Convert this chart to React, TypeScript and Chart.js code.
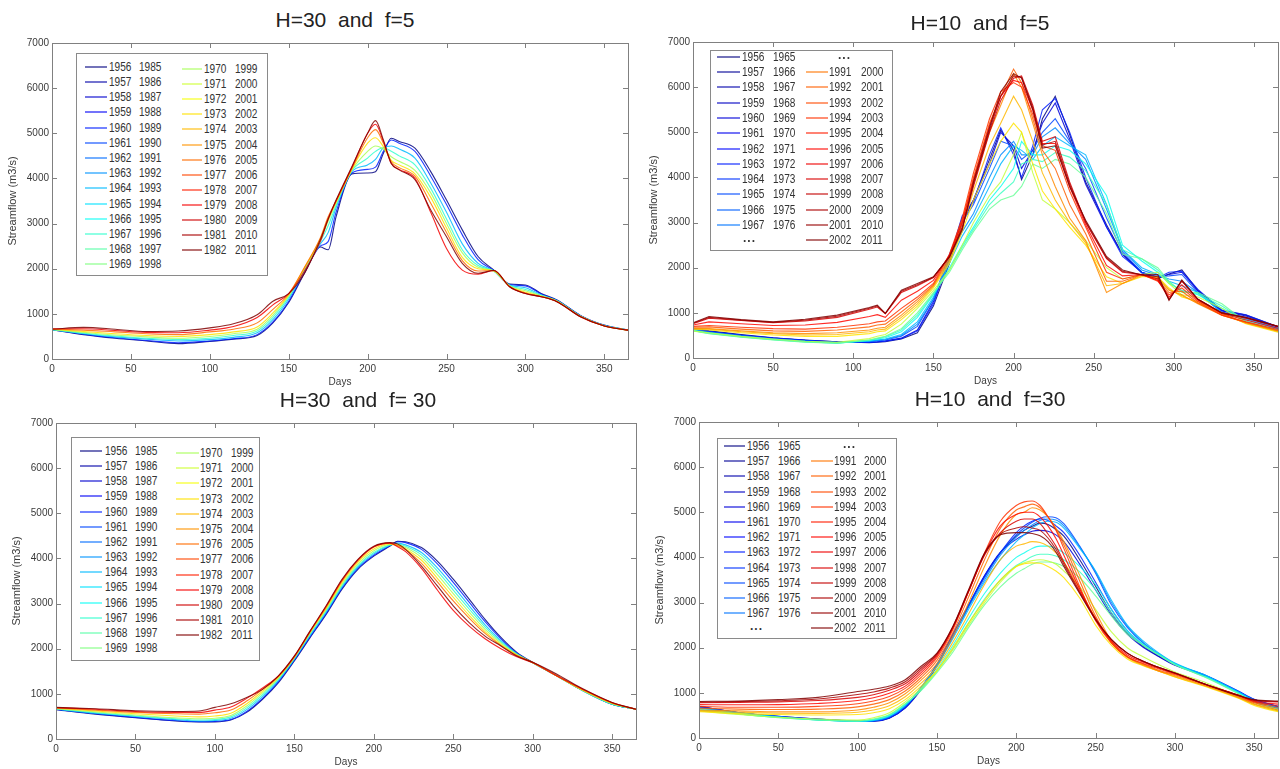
import React, { useEffect, useRef } from "react";
import { Chart, registerables } from "chart.js";
Chart.register(...registerables);

// ---------- labels ----------
const LEFT_START = [1956,1957,1958,1959,1960,1961,1962,1963,1964,1965,1966,1967,1968,1969,1970,1971,1972,1973,1974,1975,1976,1977,1978,1979,1980,1981,1982];
const LEFT_END = [1985,1986,1987,1988,1989,1990,1991,1992,1993,1994,1995,1996,1997,1998,1999,2000,2001,2002,2003,2004,2005,2006,2007,2008,2009,2010,2011];
const RIGHT_START_A = [1956,1957,1958,1959,1960,1961,1962,1963,1964,1965,1966,1967];
const RIGHT_END_A = [1965,1966,1967,1968,1969,1970,1971,1972,1973,1974,1975,1976];
const RIGHT_START_B = [1991,1992,1993,1994,1995,1996,1997,1998,1999,2000,2001,2002];
const RIGHT_END_B = [2000,2001,2002,2003,2004,2005,2006,2007,2008,2009,2010,2011];
const X_TICKS = [0,50,100,150,200,250,300,350];
const Y_TICKS = [0,1000,2000,3000,4000,5000,6000,7000];

// ---------- H=30, f=5 ----------
const TL_DAYS = [0,20,40,60,80,100,115,130,140,150,160,170,175,180,190,200,205,210,215,220,230,240,250,260,270,280,290,300,310,320,335,350,365];
const TL_1956 = [650,540,460,400,340,390,440,520,800,1250,1900,2480,2420,3150,4100,4120,4150,4560,4890,4820,4670,4150,3520,2860,2270,1970,1660,1640,1450,1310,960,750,640];
const TL_1960 = [650,550,470,410,360,400,450,540,820,1280,1920,2500,2600,3250,4120,4200,4250,4600,4850,4780,4600,4050,3420,2750,2200,1960,1650,1620,1440,1300,960,740,640];
const TL_1964 = [650,560,490,440,400,430,480,580,870,1330,1950,2550,2800,3350,4150,4300,4420,4680,4720,4650,4450,3900,3250,2550,2120,1950,1640,1580,1420,1290,950,740,640];
const TL_1967 = [650,570,510,460,430,460,520,620,920,1370,1980,2600,2950,3400,4170,4450,4600,4680,4600,4500,4300,3780,3100,2420,2070,1950,1630,1540,1410,1290,950,735,640];
const TL_1970 = [655,590,530,490,460,500,560,660,970,1400,2000,2640,3050,3450,4180,4600,4720,4650,4480,4380,4180,3680,3000,2350,2030,1950,1620,1510,1400,1280,945,735,640];
const TL_1973 = [660,610,560,520,500,540,600,710,1020,1420,2020,2660,3100,3480,4200,4780,4900,4700,4400,4300,4100,3580,2900,2250,2000,1950,1610,1480,1390,1280,940,730,640];
const TL_1976 = [665,640,600,560,540,600,660,800,1100,1440,2030,2680,3150,3500,4220,4900,5080,4780,4370,4240,4050,3450,2800,2180,1950,1960,1600,1460,1380,1270,940,730,640];
const TL_1979 = [670,670,630,590,580,640,720,920,1200,1450,1950,2600,3100,3500,4240,5000,5200,4820,4330,4200,4000,3250,2450,1970,1880,1960,1600,1450,1380,1270,930,730,640];
const TL_1982 = [660,700,660,610,620,690,780,980,1280,1450,1900,2640,3100,3520,4260,5000,5280,4850,4330,4190,3970,3300,2710,2120,1900,1960,1600,1450,1380,1270,935,730,640];

// ---------- H=10, f=5 ----------
const TR_DAYS = [0,10,30,50,70,90,110,115,120,130,140,150,160,168,175,185,192,200,205,212,218,226,235,245,258,268,280,290,297,305,315,330,345,365];
const TR_1956 = [650,600,520,450,400,360,340,350,360,420,560,1150,2100,3000,3500,4400,5050,4600,3950,4500,5300,5800,4950,3900,2950,2300,1900,1760,1860,1950,1500,1050,950,690];
const TR_1960 = [640,590,510,440,390,360,350,360,380,440,620,1250,2200,3100,3500,4300,5000,4700,4200,4600,5200,5650,4850,3850,2900,2300,1880,1780,1850,1900,1480,1040,930,680];
const TR_1963 = [640,590,500,440,390,350,345,355,370,430,600,1200,2200,3150,3450,4500,5100,4500,4000,4700,5500,5750,5000,4000,2900,2250,1900,1780,1900,1920,1520,1060,960,690];
const TR_1965 = [630,580,500,430,380,350,360,380,400,480,700,1300,2300,3000,3400,4200,4800,4700,4400,4600,5000,5300,4800,4200,3100,2350,1900,1800,1820,1850,1450,1020,900,660];
const TR_1968 = [625,570,490,420,375,345,370,390,410,500,750,1300,2200,2800,3200,4000,4500,4800,4500,4500,4900,5100,4750,4400,3300,2400,1950,1830,1750,1700,1450,1000,870,650];
const TR_1970 = [620,560,480,420,370,340,380,400,420,520,800,1350,2100,2700,3100,3800,4300,4700,4600,4400,4700,4900,4700,4500,3400,2400,2000,1850,1700,1600,1450,1000,850,640];
const TR_1974 = [610,550,470,410,360,330,390,420,450,580,900,1400,2000,2500,2900,3500,3800,4200,4800,4500,4500,4700,4600,4300,3600,2500,2150,1900,1650,1500,1400,1100,820,620];
const TR_1976 = [605,545,465,405,355,330,395,430,470,620,950,1420,1950,2450,2850,3400,3650,3900,4300,4400,4350,4550,4450,4150,3400,2400,2200,1950,1680,1480,1420,1150,810,610];
const TR_1978 = [600,540,460,400,350,330,400,440,480,650,1000,1450,1900,2400,2800,3300,3500,3600,3800,4300,4200,4400,4300,4000,3200,2300,2200,2000,1700,1450,1450,1200,800,600];
const TR_1982 = [600,560,480,420,370,350,430,480,520,750,1100,1500,1950,2500,3000,3600,3900,4500,5000,4100,3500,3300,3000,2600,2000,1750,1850,1900,1650,1400,1350,1100,780,580];
const TR_1986 = [640,620,560,510,480,480,540,580,600,850,1150,1550,2100,2800,3500,4300,4800,5200,5000,4300,3700,3300,2900,2500,1800,1650,1800,1800,1550,1350,1250,1000,760,570];
const TR_1988 = [650,640,580,540,510,520,580,620,640,900,1200,1580,2150,2900,3700,4700,5200,5800,5500,4800,4100,3500,3000,2550,1600,1650,1820,1780,1520,1380,1220,980,770,590];
const TR_1990 = [660,650,600,560,540,560,620,660,680,950,1250,1600,2200,3000,3900,5000,5600,6300,6000,5200,4500,3800,3100,2600,1450,1650,1850,1750,1500,1400,1200,950,780,600];
const TR_1992 = [680,690,640,600,590,620,690,730,750,1020,1300,1620,2250,3050,4000,5200,5800,6400,6100,5300,4600,4200,3400,2750,1700,1700,1850,1720,1450,1480,1220,950,790,610];
const TR_1994 = [700,720,680,650,640,680,760,800,820,1100,1350,1650,2300,3100,4100,5300,5900,6100,6000,5400,4700,4600,3700,2900,1900,1750,1850,1700,1400,1550,1250,950,800,630];
const TR_1996 = [730,800,760,720,730,790,920,960,900,1280,1480,1720,2280,3000,3950,5150,5800,6150,6100,5500,4750,4750,3800,2950,2050,1820,1850,1720,1350,1620,1280,980,840,660];
const TR_1998 = [760,880,830,780,820,900,1080,1130,980,1450,1600,1780,2250,2900,3800,5000,5700,6200,6250,5600,4800,4900,3900,3000,2200,1900,1850,1750,1300,1700,1300,1000,880,700];
const TR_2000 = [770,900,840,790,840,925,1100,1150,985,1480,1620,1790,2245,2870,3850,5050,5800,6250,6220,5550,4720,4800,3850,3020,2220,1920,1845,1800,1290,1715,1300,1000,890,700];
const TR_2002 = [780,920,850,800,860,950,1120,1170,990,1500,1650,1800,2240,2840,3900,5100,5900,6300,6200,5500,4650,4700,3800,3050,2250,1950,1840,1850,1280,1730,1300,1000,900,700];

// ---------- H=30, f=30 ----------
const BL_DAYS = [0,25,50,75,90,100,110,120,130,140,150,160,170,180,190,200,210,215,220,230,240,250,260,270,280,290,300,315,330,350,365];
const BL_1956 = [650,550,470,400,380,380,420,590,880,1250,1730,2250,2760,3320,3760,4050,4270,4380,4370,4240,3940,3540,3100,2650,2250,1920,1700,1410,1100,770,660];
const BL_1960 = [655,560,480,410,385,390,430,610,900,1270,1750,2270,2780,3340,3780,4070,4280,4370,4350,4200,3880,3470,3030,2600,2220,1900,1690,1400,1100,770,660];
const BL_1964 = [660,570,500,430,400,410,460,650,940,1300,1770,2300,2810,3370,3810,4100,4290,4340,4300,4130,3790,3380,2950,2530,2180,1890,1690,1400,1100,770,660];
const BL_1967 = [665,580,510,450,420,430,490,690,980,1330,1790,2330,2840,3400,3840,4130,4300,4320,4270,4080,3720,3300,2880,2480,2150,1880,1690,1400,1100,770,660];
const BL_1970 = [670,600,530,470,450,460,520,730,1020,1350,1800,2350,2870,3430,3880,4170,4310,4300,4240,4020,3640,3220,2810,2430,2120,1870,1690,1400,1100,780,660];
const BL_1973 = [680,620,560,510,490,510,570,780,1060,1370,1810,2370,2900,3470,3920,4210,4320,4290,4210,3960,3560,3140,2740,2380,2090,1860,1690,1400,1110,790,660];
const BL_1976 = [690,640,590,560,550,580,640,840,1100,1390,1820,2380,2920,3500,3950,4250,4340,4280,4190,3890,3480,3060,2680,2340,2070,1850,1700,1400,1120,800,660];
const BL_1979 = [695,660,610,590,590,640,710,900,1130,1400,1830,2390,2940,3520,3970,4260,4340,4260,4150,3780,3300,2850,2500,2220,2000,1820,1690,1400,1130,805,660];
const BL_1982 = [700,670,626,610,620,700,780,920,1100,1400,1840,2400,2950,3540,3980,4270,4350,4320,4200,3830,3390,2950,2580,2280,2060,1840,1700,1440,1140,810,660];

// ---------- H=10, f=30 ----------
const BR_DAYS = [0,25,50,75,100,110,120,130,140,150,160,170,180,190,200,205,210,215,220,225,230,240,250,260,270,280,290,300,320,340,350,365];
const BR_1956 = [700,560,480,420,380,370,440,660,1070,1590,2250,2920,3580,4100,4470,4600,4690,4760,4730,4620,4470,3950,3360,2770,2330,2030,1810,1620,1370,1030,850,700];
const BR_1960 = [690,560,470,410,380,380,450,680,1100,1620,2280,2950,3600,4120,4400,4500,4580,4600,4580,4500,4350,3850,3280,2720,2300,2010,1800,1610,1360,1020,840,690];
const BR_1963 = [700,565,480,420,375,375,445,670,1080,1600,2260,2930,3590,4110,4550,4700,4800,4850,4820,4700,4550,4050,3450,2850,2380,2060,1830,1630,1380,1040,860,700];
const BR_1965 = [680,560,470,410,370,380,460,700,1120,1640,2300,2950,3550,4100,4500,4650,4780,4870,4900,4880,4750,4250,3650,2950,2450,2100,1850,1640,1370,1030,850,680];
const BR_1968 = [670,560,470,405,370,385,470,710,1110,1620,2250,2900,3500,4050,4450,4600,4720,4820,4850,4830,4700,4230,3680,3000,2480,2120,1860,1650,1375,1025,840,670];
const BR_1970 = [660,560,470,400,370,390,480,720,1100,1600,2200,2850,3450,3950,4350,4500,4650,4750,4800,4780,4650,4200,3700,3050,2500,2150,1880,1660,1380,1020,830,660];
const BR_1974 = [640,540,460,400,370,400,500,740,1080,1520,2050,2650,3200,3650,4000,4100,4200,4250,4250,4200,4100,3800,3400,2850,2380,2080,1850,1640,1350,1000,810,640];
const BR_1976 = [630,535,455,400,375,410,510,750,1065,1480,1970,2550,3080,3500,3820,3920,4020,4070,4070,4030,3950,3680,3280,2780,2340,2060,1840,1630,1340,990,800,630];
const BR_1978 = [620,530,450,400,380,420,520,760,1050,1450,1900,2450,2950,3350,3650,3750,3850,3900,3900,3870,3800,3550,3150,2700,2300,2050,1830,1620,1330,980,790,620];
const BR_1982 = [600,520,460,420,400,450,560,800,1100,1480,1950,2500,3000,3450,3800,3880,3930,3950,3920,3850,3700,3350,2850,2350,2000,1800,1620,1460,1220,920,750,600];
const BR_1986 = [580,540,520,510,520,560,650,850,1150,1500,2000,2550,3050,3500,3800,3860,3880,3870,3800,3700,3550,3100,2500,2050,1750,1600,1480,1350,1130,880,720,580];
const BR_1988 = [600,570,550,545,570,620,715,915,1215,1575,2120,2750,3400,3950,4250,4300,4350,4330,4250,4100,3900,3300,2650,2100,1780,1610,1480,1360,1140,890,740,600];
const BR_1990 = [620,600,580,580,620,680,780,980,1280,1650,2250,3000,3800,4500,4950,5000,5100,5050,4900,4650,4350,3600,2800,2150,1800,1620,1480,1380,1150,900,760,620];
const BR_1992 = [660,640,630,640,690,750,850,1040,1340,1720,2330,3130,3950,4650,5050,5120,5180,5100,4900,4620,4280,3480,2700,2120,1800,1640,1500,1400,1165,920,780,660];
const BR_1994 = [700,680,680,700,760,820,920,1100,1400,1780,2400,3250,4100,4800,5150,5230,5250,5150,4900,4600,4200,3350,2600,2100,1800,1650,1530,1420,1180,940,800,700];
const BR_1996 = [740,735,740,765,830,890,990,1150,1450,1820,2430,3250,4080,4700,4950,5000,5000,4900,4700,4420,4050,3300,2620,2140,1840,1680,1545,1430,1180,945,815,750];
const BR_1998 = [780,790,800,830,900,960,1060,1200,1500,1850,2450,3250,4050,4550,4800,4850,4850,4750,4520,4250,3900,3250,2650,2180,1880,1700,1560,1440,1180,950,830,800];
const BR_2000 = [795,805,825,865,965,1020,1105,1245,1545,1865,2460,3270,4075,4520,4650,4680,4650,4600,4430,4180,3850,3220,2630,2180,1880,1700,1560,1440,1180,945,840,810];
const BR_2002 = [810,820,850,900,1030,1080,1150,1290,1590,1880,2470,3290,4100,4500,4550,4550,4530,4480,4350,4120,3800,3200,2620,2180,1880,1700,1560,1440,1180,940,850,820];

// ---------- styling helpers ----------
function clamp(v: number) { return Math.max(0, Math.min(1, v)); }
function jet(t: number, a = 1) {
  const r = clamp(1.5 - Math.abs(4 * t - 3));
  const g = clamp(1.5 - Math.abs(4 * t - 2));
  const b = clamp(1.5 - Math.abs(4 * t - 1));
  return `rgba(${Math.round(r * 255)},${Math.round(g * 255)},${Math.round(b * 255)},${a})`;
}

type Series = { idx: number; n: number; values: number[] };
type Entry = { c?: string; a?: string; b?: string; dots?: boolean };
type Col = { sw0: number; sw1: number; ta: number; tb: number; y0: number; dy: number; dotsX?: number; entries: Entry[] };
type Spec = {
  l: number; t: number; r: number; b: number;
  title: string; tx: number; ty: number;
  days: number[]; series: Series[]; smooth: boolean;
  box: [number, number, number, number]; cols: Col[];
};

const SW_ALPHA = 0.55;
const leftEntries = (from: number, to: number): Entry[] => {
  const out: Entry[] = [];
  for (let i = from; i <= to; i++) out.push({ c: jet(i / 26, SW_ALPHA), a: String(LEFT_START[i]), b: String(LEFT_END[i]) });
  return out;
};
const rightA: Entry[] = RIGHT_START_A.map((s, i) => ({ c: jet(i / 46, SW_ALPHA), a: String(s), b: String(RIGHT_END_A[i]) }));
const rightB: Entry[] = RIGHT_START_B.map((s, i) => ({ c: jet((35 + i) / 46, SW_ALPHA), a: String(s), b: String(RIGHT_END_B[i]) }));

const SPECS: Spec[] = [
  {
    l: 52, t: 43, r: 628, b: 359, title: "H=30  and  f=5", tx: 345, ty: 20,
    days: TL_DAYS, smooth: true,
    series: [
      { idx: 0, n: 26, values: TL_1956 }, { idx: 4, n: 26, values: TL_1960 }, { idx: 8, n: 26, values: TL_1964 },
      { idx: 11, n: 26, values: TL_1967 }, { idx: 14, n: 26, values: TL_1970 }, { idx: 17, n: 26, values: TL_1973 },
      { idx: 20, n: 26, values: TL_1976 }, { idx: 23, n: 26, values: TL_1979 }, { idx: 26, n: 26, values: TL_1982 },
    ],
    box: [76, 53, 268, 276],
    cols: [
      { sw0: 85, sw1: 107, ta: 109, tb: 139, y0: 66.7, dy: 15.2, entries: leftEntries(0, 13) },
      { sw0: 182, sw1: 202, ta: 204, tb: 235, y0: 69, dy: 15.1, entries: leftEntries(14, 26) },
    ],
  },
  {
    l: 693, t: 42, r: 1278, b: 358, title: "H=10  and  f=5", tx: 980, ty: 23,
    days: TR_DAYS, smooth: false,
    series: [
      { idx: 0, n: 46, values: TR_1956 }, { idx: 4, n: 46, values: TR_1960 }, { idx: 7, n: 46, values: TR_1963 },
      { idx: 9, n: 46, values: TR_1965 }, { idx: 12, n: 46, values: TR_1968 }, { idx: 14, n: 46, values: TR_1970 },
      { idx: 18, n: 46, values: TR_1974 }, { idx: 20, n: 46, values: TR_1976 }, { idx: 22, n: 46, values: TR_1978 },
      { idx: 26, n: 46, values: TR_1982 }, { idx: 30, n: 46, values: TR_1986 }, { idx: 32, n: 46, values: TR_1988 },
      { idx: 34, n: 46, values: TR_1990 }, { idx: 36, n: 46, values: TR_1992 }, { idx: 38, n: 46, values: TR_1994 },
      { idx: 40, n: 46, values: TR_1996 }, { idx: 42, n: 46, values: TR_1998 }, { idx: 44, n: 46, values: TR_2000 },
      { idx: 46, n: 46, values: TR_2002 },
    ],
    box: [710, 50, 893, 251],
    cols: [
      { sw0: 717, sw1: 740, ta: 742, tb: 773, y0: 56.7, dy: 15.3, dotsX: 743, entries: [...rightA, { dots: true }] },
      { sw0: 806, sw1: 828, ta: 829, tb: 861, y0: 56.7, dy: 15.3, dotsX: 838, entries: [{ dots: true }, ...rightB] },
    ],
  },
  {
    l: 56, t: 423, r: 636, b: 739, title: "H=30  and  f= 30", tx: 358, ty: 400,
    days: BL_DAYS, smooth: true,
    series: [
      { idx: 0, n: 26, values: BL_1956 }, { idx: 4, n: 26, values: BL_1960 }, { idx: 8, n: 26, values: BL_1964 },
      { idx: 11, n: 26, values: BL_1967 }, { idx: 14, n: 26, values: BL_1970 }, { idx: 17, n: 26, values: BL_1973 },
      { idx: 20, n: 26, values: BL_1976 }, { idx: 23, n: 26, values: BL_1979 }, { idx: 26, n: 26, values: BL_1982 },
    ],
    box: [71, 437, 260, 661],
    cols: [
      { sw0: 80, sw1: 102, ta: 105, tb: 135, y0: 451, dy: 15.15, entries: leftEntries(0, 13) },
      { sw0: 176, sw1: 199, ta: 200, tb: 231, y0: 453, dy: 15.2, entries: leftEntries(14, 26) },
    ],
  },
  {
    l: 699, t: 422, r: 1278, b: 738, title: "H=10  and  f=30", tx: 990, ty: 399,
    days: BR_DAYS, smooth: true,
    series: [
      { idx: 0, n: 46, values: BR_1956 }, { idx: 4, n: 46, values: BR_1960 }, { idx: 7, n: 46, values: BR_1963 },
      { idx: 9, n: 46, values: BR_1965 }, { idx: 12, n: 46, values: BR_1968 }, { idx: 14, n: 46, values: BR_1970 },
      { idx: 18, n: 46, values: BR_1974 }, { idx: 20, n: 46, values: BR_1976 }, { idx: 22, n: 46, values: BR_1978 },
      { idx: 26, n: 46, values: BR_1982 }, { idx: 30, n: 46, values: BR_1986 }, { idx: 32, n: 46, values: BR_1988 },
      { idx: 34, n: 46, values: BR_1990 }, { idx: 36, n: 46, values: BR_1992 }, { idx: 38, n: 46, values: BR_1994 },
      { idx: 40, n: 46, values: BR_1996 }, { idx: 42, n: 46, values: BR_1998 }, { idx: 44, n: 46, values: BR_2000 },
      { idx: 46, n: 46, values: BR_2002 },
    ],
    box: [717, 438, 897, 639],
    cols: [
      { sw0: 724, sw1: 745, ta: 747, tb: 778, y0: 446, dy: 15.2, dotsX: 750, entries: [...rightA, { dots: true }] },
      { sw0: 811, sw1: 833, ta: 834, tb: 864, y0: 446, dy: 15.2, dotsX: 843, entries: [{ dots: true }, ...rightB] },
    ],
  },
];

const SANS = '"Liberation Sans", Arial, Helvetica, sans-serif';

const framePlugin = {
  id: "matlabFrame",
  afterDraw(chart: any) {
    const { ctx, chartArea: a, scales } = chart;
    ctx.save();
    ctx.strokeStyle = "#808080";
    ctx.lineWidth = 1;
    ctx.strokeRect(Math.round(a.left) + 0.5, Math.round(a.top) + 0.5, Math.round(a.right - a.left), Math.round(a.bottom - a.top));
    ctx.beginPath();
    const tl = 5;
    X_TICKS.forEach((v) => {
      const x = Math.round(scales.x.getPixelForValue(v)) + 0.5;
      ctx.moveTo(x, a.bottom); ctx.lineTo(x, a.bottom - tl);
      ctx.moveTo(x, a.top); ctx.lineTo(x, a.top + tl);
    });
    Y_TICKS.forEach((v) => {
      const y = Math.round(scales.y.getPixelForValue(v)) + 0.5;
      ctx.moveTo(a.left, y); ctx.lineTo(a.left + tl, y);
      ctx.moveTo(a.right, y); ctx.lineTo(a.right - tl, y);
    });
    ctx.stroke();
    ctx.restore();
  },
};

function Panel({ s }: { s: Spec }) {
  const ref = useRef<HTMLCanvasElement>(null);
  const W = s.r - s.l + 56;
  const H = s.b - s.t + 42;
  useEffect(() => {
    const chart = new Chart(ref.current as HTMLCanvasElement, {
      type: "line",
      data: {
        datasets: s.series.map((ser) => ({
          label: String(ser.idx),
          data: s.days.map((d, i) => ({ x: d, y: ser.values[i] })),
          borderColor: jet(ser.idx / ser.n, 0.85),
          borderWidth: 1.1,
          pointRadius: 0,
          fill: false,
          order: -ser.idx,
          tension: 0,
          cubicInterpolationMode: s.smooth ? "monotone" : "default",
        })),
      },
      options: {
        animation: false,
        responsive: false,
        events: [],
        layout: { padding: { top: 10, right: 6, left: 0, bottom: 0 } },
        plugins: { legend: { display: false }, tooltip: { enabled: false }, title: { display: false } },
        scales: {
          x: {
            type: "linear", min: 0, max: 365,
            afterFit: (sc: any) => { sc.height = 32; },
            afterBuildTicks: (sc: any) => { sc.ticks = X_TICKS.map((v) => ({ value: v })); },
            grid: { display: false, drawTicks: false },
            border: { display: false },
            ticks: { padding: 4, autoSkip: false, maxRotation: 0, color: "#3a3a3a", font: { family: SANS, size: 10 },
              callback: (v: any) => String(v) },
            title: { display: true, text: "Days", color: "#3a3a3a", font: { family: SANS, size: 10 }, padding: { top: 0, bottom: 3 } },
          },
          y: {
            min: 0, max: 7000,
            afterFit: (sc: any) => { sc.width = 50; },
            afterBuildTicks: (sc: any) => { sc.ticks = Y_TICKS.map((v) => ({ value: v })); },
            grid: { display: false, drawTicks: false },
            border: { display: false },
            ticks: { padding: 3, autoSkip: false, color: "#3a3a3a", font: { family: SANS, size: 10 },
              callback: (v: any) => String(v) },
            title: { display: true, text: "Streamflow (m3/s)", color: "#3a3a3a", font: { family: SANS, size: 11 }, padding: { top: 4, bottom: 0 } },
          },
        },
      },
      plugins: [framePlugin],
    } as any);
    return () => chart.destroy();
  }, []);

  return (
    <>
      <canvas ref={ref} width={W} height={H}
        style={{ position: "absolute", left: s.l - 50, top: s.t - 10, width: W, height: H }} />
      <div style={{ position: "absolute", left: s.tx - 150, top: s.ty - 13, width: 300, textAlign: "center",
        fontFamily: SANS, fontSize: 21, lineHeight: "26px", color: "#222", whiteSpace: "pre" }}>{s.title}</div>
      <div style={{ position: "absolute", left: s.box[0], top: s.box[1], width: s.box[2] - s.box[0], height: s.box[3] - s.box[1],
        border: "1px solid #8a8a8a", background: "#fff", boxSizing: "border-box" }} />
      {s.cols.map((col, ci) =>
        col.entries.map((e, ri) => {
          const y = col.y0 + ri * col.dy;
          const txt: React.CSSProperties = { position: "absolute", top: y - 8, lineHeight: "16px", fontSize: 12,
            fontFamily: SANS, color: "#333", whiteSpace: "pre", transform: "scaleX(0.84)", transformOrigin: "0 50%" };
          if (e.dots) {
            return <div key={`${ci}-${ri}`} style={{ ...txt, left: col.dotsX, fontWeight: "bold", letterSpacing: 1, top: y - 10, transform: "none" }}>...</div>;
          }
          return (
            <React.Fragment key={`${ci}-${ri}`}>
              <div style={{ position: "absolute", left: col.sw0, top: Math.round(y) - 1, width: col.sw1 - col.sw0, height: 2,
                background: e.c }} />
              <div style={{ ...txt, left: col.ta }}>{e.a}</div>
              <div style={{ ...txt, left: col.tb }}>{e.b}</div>
            </React.Fragment>
          );
        })
      )}
    </>
  );
}

export default function App() {
  return (
    <div style={{ position: "fixed", left: 0, top: 0, width: 1280, height: 769, background: "#fff", overflow: "hidden" }}>
      {SPECS.map((s, i) => <Panel key={i} s={s} />)}
    </div>
  );
}
